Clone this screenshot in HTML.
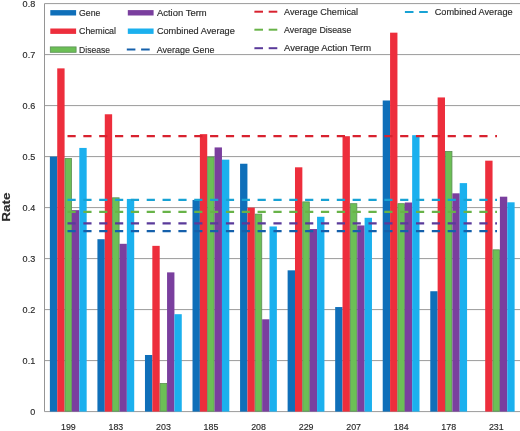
<!DOCTYPE html>
<html><head><meta charset="utf-8"><title>chart</title>
<style>
html,body{margin:0;padding:0;background:#fff;}
body{width:520px;height:431px;overflow:hidden;}
svg{display:block;will-change:transform;filter:blur(0.35px);}
text{font-family:"Liberation Sans",sans-serif;fill:#2a2a2a;stroke:#2a2a2a;stroke-width:0.15px;}
</style></head><body>
<svg width="520" height="431" viewBox="0 0 520 431">
<rect width="520" height="431" fill="#fff"/>
<line x1="44.5" x2="520.0" y1="411.60" y2="411.60" stroke="#9a9a9a" stroke-width="1"/>
<line x1="44.5" x2="520.0" y1="360.60" y2="360.60" stroke="#9a9a9a" stroke-width="1"/>
<line x1="44.5" x2="520.0" y1="309.60" y2="309.60" stroke="#9a9a9a" stroke-width="1"/>
<line x1="44.5" x2="520.0" y1="258.60" y2="258.60" stroke="#9a9a9a" stroke-width="1"/>
<line x1="44.5" x2="520.0" y1="207.60" y2="207.60" stroke="#9a9a9a" stroke-width="1"/>
<line x1="44.5" x2="520.0" y1="156.60" y2="156.60" stroke="#9a9a9a" stroke-width="1"/>
<line x1="44.5" x2="520.0" y1="105.60" y2="105.60" stroke="#9a9a9a" stroke-width="1"/>
<line x1="44.5" x2="520.0" y1="54.60" y2="54.60" stroke="#9a9a9a" stroke-width="1"/>
<line x1="44.5" x2="520.0" y1="3.60" y2="3.60" stroke="#9a9a9a" stroke-width="1"/>
<line x1="44.5" x2="44.5" y1="3.6" y2="411.6" stroke="#959595" stroke-width="1"/>
<rect x="49.88" y="156.60" width="7.36" height="255.00" fill="#0F6FB9"/>
<rect x="57.23" y="68.37" width="7.36" height="343.23" fill="#ED2E3C"/>
<rect x="65.00" y="158.53" width="6.56" height="252.67" fill="#6CBF56" stroke="#5b8f55" stroke-width="0.8"/>
<rect x="71.95" y="210.15" width="7.36" height="201.45" fill="#7A3F9E"/>
<rect x="79.31" y="147.93" width="7.36" height="263.67" fill="#1BB0EE"/>
<rect x="97.42" y="239.22" width="7.36" height="172.38" fill="#0F6FB9"/>
<rect x="104.78" y="114.27" width="7.36" height="297.33" fill="#ED2E3C"/>
<rect x="112.55" y="197.80" width="6.56" height="213.40" fill="#6CBF56" stroke="#5b8f55" stroke-width="0.8"/>
<rect x="119.50" y="243.81" width="7.36" height="167.79" fill="#7A3F9E"/>
<rect x="126.86" y="198.93" width="7.36" height="212.67" fill="#1BB0EE"/>
<rect x="144.97" y="354.99" width="7.36" height="56.61" fill="#0F6FB9"/>
<rect x="152.34" y="245.85" width="7.36" height="165.75" fill="#ED2E3C"/>
<rect x="160.09" y="383.44" width="6.56" height="27.76" fill="#6CBF56" stroke="#5b8f55" stroke-width="0.8"/>
<rect x="167.06" y="272.37" width="7.36" height="139.23" fill="#7A3F9E"/>
<rect x="174.41" y="314.19" width="7.36" height="97.41" fill="#1BB0EE"/>
<rect x="192.52" y="199.95" width="7.36" height="211.65" fill="#0F6FB9"/>
<rect x="199.88" y="134.16" width="7.36" height="277.44" fill="#ED2E3C"/>
<rect x="207.64" y="157.00" width="6.56" height="254.20" fill="#6CBF56" stroke="#5b8f55" stroke-width="0.8"/>
<rect x="214.60" y="147.42" width="7.36" height="264.18" fill="#7A3F9E"/>
<rect x="221.96" y="159.66" width="7.36" height="251.94" fill="#1BB0EE"/>
<rect x="240.07" y="163.74" width="7.36" height="247.86" fill="#0F6FB9"/>
<rect x="247.44" y="207.60" width="7.36" height="204.00" fill="#ED2E3C"/>
<rect x="255.19" y="214.12" width="6.56" height="197.08" fill="#6CBF56" stroke="#5b8f55" stroke-width="0.8"/>
<rect x="262.15" y="319.29" width="7.36" height="92.31" fill="#7A3F9E"/>
<rect x="269.51" y="226.47" width="7.36" height="185.13" fill="#1BB0EE"/>
<rect x="287.62" y="270.33" width="7.36" height="141.27" fill="#0F6FB9"/>
<rect x="294.99" y="167.31" width="7.36" height="244.29" fill="#ED2E3C"/>
<rect x="302.75" y="201.88" width="6.56" height="209.32" fill="#6CBF56" stroke="#5b8f55" stroke-width="0.8"/>
<rect x="309.70" y="229.02" width="7.36" height="182.58" fill="#7A3F9E"/>
<rect x="317.06" y="216.78" width="7.36" height="194.82" fill="#1BB0EE"/>
<rect x="335.17" y="307.05" width="7.36" height="104.55" fill="#0F6FB9"/>
<rect x="342.53" y="136.20" width="7.36" height="275.40" fill="#ED2E3C"/>
<rect x="350.29" y="203.67" width="6.56" height="207.53" fill="#6CBF56" stroke="#5b8f55" stroke-width="0.8"/>
<rect x="357.25" y="225.45" width="7.36" height="186.15" fill="#7A3F9E"/>
<rect x="364.61" y="217.80" width="7.36" height="193.80" fill="#1BB0EE"/>
<rect x="382.72" y="100.50" width="7.36" height="311.10" fill="#0F6FB9"/>
<rect x="390.08" y="32.67" width="7.36" height="378.93" fill="#ED2E3C"/>
<rect x="397.84" y="203.67" width="6.56" height="207.53" fill="#6CBF56" stroke="#5b8f55" stroke-width="0.8"/>
<rect x="404.80" y="202.50" width="7.36" height="209.10" fill="#7A3F9E"/>
<rect x="412.16" y="135.18" width="7.36" height="276.42" fill="#1BB0EE"/>
<rect x="430.27" y="291.24" width="7.36" height="120.36" fill="#0F6FB9"/>
<rect x="437.63" y="97.44" width="7.36" height="314.16" fill="#ED2E3C"/>
<rect x="445.39" y="151.39" width="6.56" height="259.81" fill="#6CBF56" stroke="#5b8f55" stroke-width="0.8"/>
<rect x="452.35" y="193.32" width="7.36" height="218.28" fill="#7A3F9E"/>
<rect x="459.71" y="183.12" width="7.36" height="228.48" fill="#1BB0EE"/>
<rect x="485.19" y="160.68" width="7.36" height="250.92" fill="#ED2E3C"/>
<rect x="492.94" y="249.82" width="6.56" height="161.38" fill="#6CBF56" stroke="#5b8f55" stroke-width="0.8"/>
<rect x="499.90" y="196.69" width="7.36" height="214.91" fill="#7A3F9E"/>
<rect x="507.26" y="202.30" width="7.36" height="209.30" fill="#1BB0EE"/>
<line x1="67.5" x2="497" y1="136.20" y2="136.20" stroke="#D8222F" stroke-width="2.3" stroke-dasharray="8.2 7.64"/>
<line x1="67.5" x2="497" y1="199.95" y2="199.95" stroke="#18A2D4" stroke-width="2.3" stroke-dasharray="8.2 7.64"/>
<line x1="67.5" x2="497" y1="211.78" y2="211.78" stroke="#68B348" stroke-width="2.3" stroke-dasharray="8.2 7.64"/>
<line x1="67.5" x2="497" y1="223.41" y2="223.41" stroke="#5A3A9A" stroke-width="2.3" stroke-dasharray="8.2 7.64"/>
<line x1="67.5" x2="497" y1="231.21" y2="231.21" stroke="#1560AB" stroke-width="2.3" stroke-dasharray="8.2 7.64"/>
<text x="30.20" y="414.75" font-size="9.6" textLength="5.0" lengthAdjust="spacingAndGlyphs">0</text>
<text x="22.60" y="363.75" font-size="9.6" textLength="12.6" lengthAdjust="spacingAndGlyphs">0.1</text>
<text x="22.60" y="312.75" font-size="9.6" textLength="12.6" lengthAdjust="spacingAndGlyphs">0.2</text>
<text x="22.60" y="261.75" font-size="9.6" textLength="12.6" lengthAdjust="spacingAndGlyphs">0.3</text>
<text x="22.60" y="210.75" font-size="9.6" textLength="12.6" lengthAdjust="spacingAndGlyphs">0.4</text>
<text x="22.60" y="159.75" font-size="9.6" textLength="12.6" lengthAdjust="spacingAndGlyphs">0.5</text>
<text x="22.60" y="108.75" font-size="9.6" textLength="12.6" lengthAdjust="spacingAndGlyphs">0.6</text>
<text x="22.60" y="57.75" font-size="9.6" textLength="12.6" lengthAdjust="spacingAndGlyphs">0.7</text>
<text x="22.60" y="6.75" font-size="9.6" textLength="12.6" lengthAdjust="spacingAndGlyphs">0.8</text>
<text x="60.98" y="429.6" font-size="9.4" textLength="14.8" lengthAdjust="spacingAndGlyphs">199</text>
<text x="108.52" y="429.6" font-size="9.4" textLength="14.8" lengthAdjust="spacingAndGlyphs">183</text>
<text x="156.07" y="429.6" font-size="9.4" textLength="14.8" lengthAdjust="spacingAndGlyphs">203</text>
<text x="203.62" y="429.6" font-size="9.4" textLength="14.8" lengthAdjust="spacingAndGlyphs">185</text>
<text x="251.17" y="429.6" font-size="9.4" textLength="14.8" lengthAdjust="spacingAndGlyphs">208</text>
<text x="298.72" y="429.6" font-size="9.4" textLength="14.8" lengthAdjust="spacingAndGlyphs">229</text>
<text x="346.27" y="429.6" font-size="9.4" textLength="14.8" lengthAdjust="spacingAndGlyphs">207</text>
<text x="393.82" y="429.6" font-size="9.4" textLength="14.8" lengthAdjust="spacingAndGlyphs">184</text>
<text x="441.37" y="429.6" font-size="9.4" textLength="14.8" lengthAdjust="spacingAndGlyphs">178</text>
<text x="488.92" y="429.6" font-size="9.4" textLength="14.8" lengthAdjust="spacingAndGlyphs">231</text>
<text transform="translate(9.8,221.8) rotate(-90)" font-size="11.8" font-weight="bold" textLength="29.3" lengthAdjust="spacingAndGlyphs" fill="#111">Rate</text>
<rect x="50.3" y="10.100000000000001" width="25.8" height="5.4" fill="#0F6FB9"/>
<text x="79" y="15.55" font-size="9.3" stroke-width="0.3" textLength="21.4" lengthAdjust="spacingAndGlyphs">Gene</text>
<rect x="50.3" y="28.5" width="25.8" height="5.4" fill="#ED2E3C"/>
<text x="79" y="34.35" font-size="9.3" stroke-width="0.3" textLength="37.0" lengthAdjust="spacingAndGlyphs">Chemical</text>
<rect x="50.3" y="46.9" width="25.8" height="5.4" fill="#6CBF56" stroke="#5b8f55" stroke-width="0.8"/>
<text x="79" y="52.5" font-size="9.3" stroke-width="0.3" textLength="31.1" lengthAdjust="spacingAndGlyphs">Disease</text>
<rect x="127.8" y="10.100000000000001" width="25.8" height="5.4" fill="#7A3F9E"/>
<text x="156.9" y="15.55" font-size="9.3" stroke-width="0.3" textLength="49.8" lengthAdjust="spacingAndGlyphs">Action Term</text>
<rect x="127.8" y="28.5" width="25.8" height="5.4" fill="#1BB0EE"/>
<text x="156.9" y="34.35" font-size="9.3" stroke-width="0.3" textLength="77.9" lengthAdjust="spacingAndGlyphs">Combined Average</text>
<line x1="126.8" x2="135.4" y1="49.5" y2="49.5" stroke="#1560AB" stroke-width="2"/>
<line x1="141.1" x2="149.7" y1="49.5" y2="49.5" stroke="#1560AB" stroke-width="2"/>
<text x="156.7" y="52.5" font-size="9.3" stroke-width="0.3" textLength="57.7" lengthAdjust="spacingAndGlyphs">Average Gene</text>
<line x1="254.4" x2="263.0" y1="11.7" y2="11.7" stroke="#D8222F" stroke-width="2"/>
<line x1="268.7" x2="277.3" y1="11.7" y2="11.7" stroke="#D8222F" stroke-width="2"/>
<text x="284.1" y="14.5" font-size="9.3" stroke-width="0.3" textLength="74.0" lengthAdjust="spacingAndGlyphs">Average Chemical</text>
<line x1="254.4" x2="263.0" y1="29.7" y2="29.7" stroke="#68B348" stroke-width="2"/>
<line x1="268.7" x2="277.3" y1="29.7" y2="29.7" stroke="#68B348" stroke-width="2"/>
<text x="284.1" y="32.8" font-size="9.3" stroke-width="0.3" textLength="67.3" lengthAdjust="spacingAndGlyphs">Average Disease</text>
<line x1="254.4" x2="263.0" y1="48.2" y2="48.2" stroke="#5A3A9A" stroke-width="2"/>
<line x1="268.7" x2="277.3" y1="48.2" y2="48.2" stroke="#5A3A9A" stroke-width="2"/>
<text x="284.1" y="50.9" font-size="9.3" stroke-width="0.3" textLength="87.0" lengthAdjust="spacingAndGlyphs">Average Action Term</text>
<line x1="404.9" x2="413.5" y1="12.0" y2="12.0" stroke="#18A2D4" stroke-width="2"/>
<line x1="419.2" x2="427.79999999999995" y1="12.0" y2="12.0" stroke="#18A2D4" stroke-width="2"/>
<text x="434.7" y="14.6" font-size="9.3" stroke-width="0.3" textLength="77.9" lengthAdjust="spacingAndGlyphs">Combined Average</text>
</svg></body></html>
